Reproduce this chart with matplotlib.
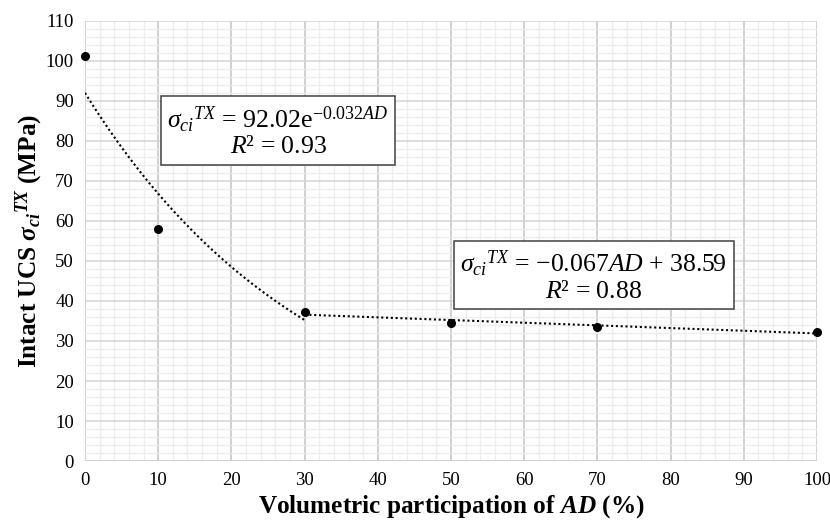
import numpy as np
import matplotlib
matplotlib.use("Agg")
import matplotlib.pyplot as plt
from matplotlib.ticker import MultipleLocator

plt.rcParams['font.family'] = ['Liberation Serif', 'DejaVu Serif']
plt.rcParams['mathtext.fontset'] = 'custom'
plt.rcParams['mathtext.rm'] = 'Liberation Serif'
plt.rcParams['mathtext.it'] = 'Liberation Serif:italic'
plt.rcParams['mathtext.bf'] = 'Liberation Serif:bold'
plt.rcParams['mathtext.bfit'] = 'Liberation Serif:bold:italic'

# Measured intact UCS vs. volumetric AD participation
ad_pct = [0, 10, 30, 50, 70, 100]
ucs_mpa = [101.3, 58.1, 37.3, 34.4, 33.5, 32.2]

# Fitted trend parameters
exp_a, exp_b = 92.02, -0.032          # 0-30 %
lin_m, lin_c = -0.067, 38.59          # 30-100 %

fig = plt.figure(figsize=(8.30, 5.23), dpi=100)
ax = fig.add_axes([0.1024, 0.1185, 0.882, 0.8415])

ax.set_xlim(0, 100)
ax.set_ylim(0, 110)
ax.xaxis.set_major_locator(MultipleLocator(10))
ax.yaxis.set_major_locator(MultipleLocator(10))
ax.xaxis.set_minor_locator(MultipleLocator(2))
ax.yaxis.set_minor_locator(MultipleLocator(2))
ax.grid(which='minor', color='#ececec', linewidth=0.9)
ax.grid(which='major', axis='y', color='#d4d4d4', linewidth=1.1)
ax.grid(which='major', axis='x', color='#c4c4c4', linewidth=1.1)
ax.set_axisbelow(True)
for s in ax.spines.values():
    s.set_visible(False)
ax.axhline(0, color='#d0d0d0', linewidth=1.4, zorder=1)
ax.tick_params(which='both', length=0, labelsize=13.5, pad=8, colors='black')

# Trend lines
x_exp = np.linspace(0, 30, 100)
ax.plot(x_exp, exp_a * np.exp(exp_b * x_exp), color='black', linestyle=(0, (1, 1.3)),
        linewidth=1.5, zorder=3)
x_lin = np.array([30, 100])
ax.plot(x_lin, lin_m * x_lin + lin_c, color='black', linestyle=(0, (1, 1.3)),
        linewidth=1.5, zorder=3)

ax.plot(ad_pct, ucs_mpa, 'o', color='black', markersize=5.5, zorder=4, clip_on=False)

box = dict(boxstyle='square,pad=0.25', facecolor='white', edgecolor='#404040', linewidth=1.1)
ax.text(26.4, 82.4, '$\\sigma_{ci}{}^{TX}$ = 92.02e$^{-0.032\\mathit{AD}}$\n$R$² = 0.93',
        ha='center', va='center', fontsize=18.5, bbox=box, linespacing=1.1, zorder=5)
ax.text(69.5, 46.25, '$\\sigma_{ci}{}^{TX}$ = \u22120.067$AD$ + 38.59\n$R$² = 0.88',
        ha='center', va='center', fontsize=18.5, bbox=box, linespacing=1.1, zorder=5)

ax.set_xlabel('Volumetric participation of $\\mathbfit{AD}$ (%)', fontsize=18.2,
              fontweight='bold', va='center')
ax.xaxis.set_label_coords(0.5, -0.103)
ax.set_ylabel('Intact UCS $\\mathbfit{\\sigma_{ci}{}^{TX}}$ (MPa)', fontsize=18.2,
              fontweight='bold', va='center')
ax.yaxis.set_label_coords(-0.076, 0.5)

fig.savefig('out.png', dpi=100)
